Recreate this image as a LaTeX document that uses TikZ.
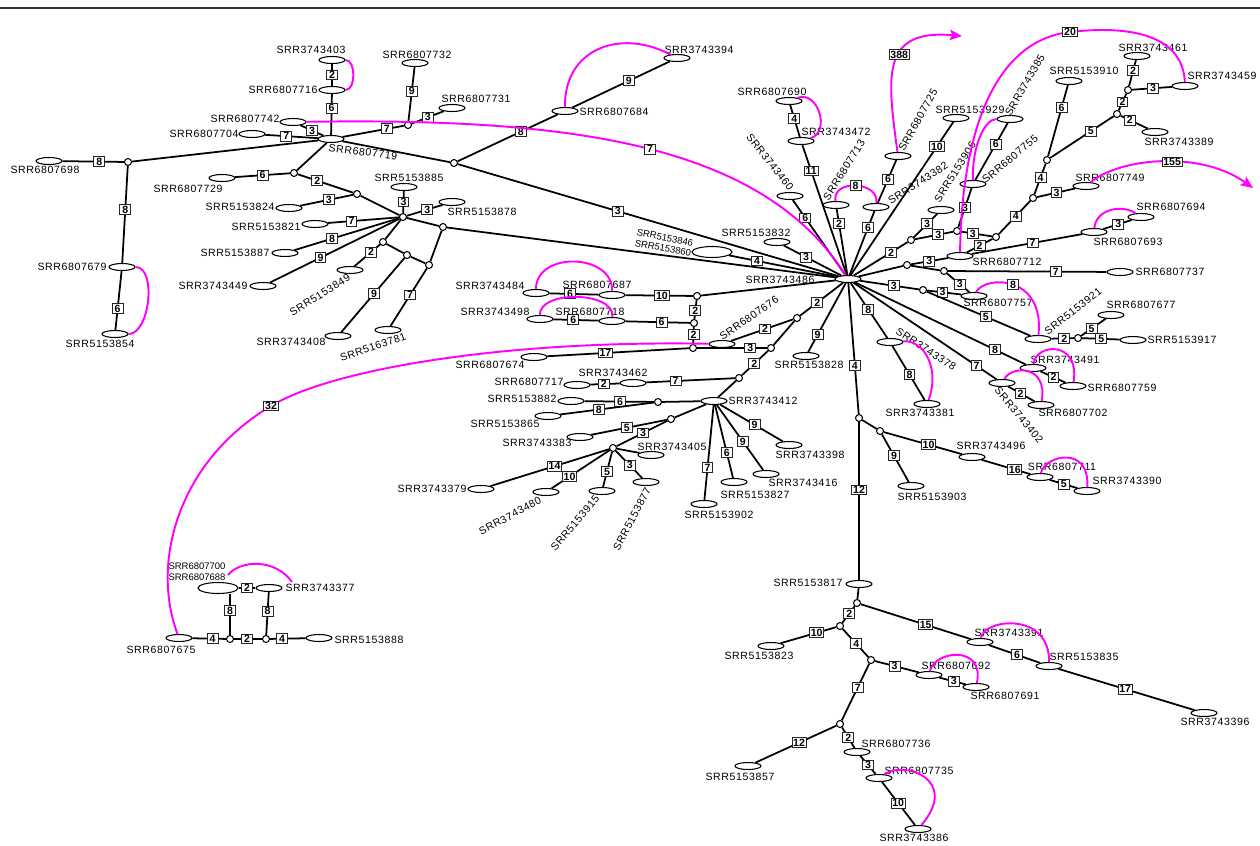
\documentclass[tikz,border=0pt]{standalone}
\usepackage{fontspec}
\setmainfont{Liberation Sans}
\newfontfamily\labfont[LetterSpace=6]{Liberation Sans}
\usetikzlibrary{shapes.geometric,arrows.meta,calc}
\definecolor{recomb}{RGB}{255,0,255}

\begin{document}
\begin{tikzpicture}[x=0.02cm,y=-0.02cm,line width=1pt,
  hap/.style={draw,ellipse,fill=white,line width=0.6pt,minimum width=0.52cm,minimum height=0.14cm,inner sep=0pt},
  bighap/.style={hap,minimum width=0.8cm,minimum height=0.22cm},
  med/.style={draw,circle,fill=white,line width=0.6pt,minimum size=0.14cm,inner sep=0pt},
  lab/.style={font=\labfont\fontsize{6}{7}\selectfont,inner sep=0pt},
  labtwo/.style={font=\fontsize{5.4}{6.2}\selectfont,inner sep=0pt,align=left},
  num/.style={draw=black!85,fill=white,line width=0.55pt,font=\bfseries\fontsize{6}{6}\selectfont,inner sep=0.7pt,minimum width=6.2pt,minimum height=5.6pt},
  magline/.style={draw=recomb,line width=1.1pt}]
\useasboundingbox (0,0) rectangle (1260,845);
% 顶部边线
\draw[line width=1.2pt,black!80] (0,8) -- (1260,8);
% 单倍型（椭圆）
\foreach \n/\x/\y in {6807698/49/161,6807679/122/267,5153854/115/334,6807742/293/122,
  6807704/252/134,6807719/331/139,3743403/332/60,6807716/332/90,6807732/415/63,
  6807731/452/108,6807729/222/178,5153824/289/208,5153821/315/224,5153887/285/253,
  3743449/263/286,5153885/404/187,5153878/452/202,5153849/350/270,3743408/338/336,
  5163781/388/330,6807684/565/111,3743394/677/58,6807690/789/101,3743472/801/141,
  3743460/790/196,6807713/836/205,3743382/876/207,6807725/898/156,5153929/956/118,
  5153906/941/210,6807755/973/184,3743385/1010/119,6807712/960/256,6807749/1086/186,
  5153910/1069/81,3743389/1155/132,3743461/1137/56,3743459/1185/86,6807693/1094/232,
  6807694/1141/217,6807737/1120/272,6807757/974/296,5153921/1038/339,6807677/1111/315,
  5153917/1133/340,3743491/1033/368,6807759/1073/386,3743402/1002/383,6807702/1041/405,
  3743378/890/342,3743381/927/404,5153828/806/356,6807676/722/344,3743462/633/383,
  6807717/577/385,3743412/714/401,5153882/571/401,5153865/548/416,3743383/580/437,
  3743405/651/455,3743379/481/489,3743480/546/492,5153915/602/491,5153877/646/482,
  5153902/704/504,5153827/734/482,3743416/766/474,3743398/789/445,3743484/536/293,
  6807687/612/295,3743498/540/319,6807718/612/321,6807674/534/357,5153832/777/242,
  3743486/848/279,6807675/179/638,5153888/319/638,3743377/269/588,5153903/911/486,
  3743496/972/457,6807711/1040/477,3743390/1087/491,5153817/859/584,5153823/771/646,
  6807692/929/675,6807691/976/687,3743391/980/642,5153835/1049/666,3743396/1204/713,
  5153857/748/766,6807736/857/752,6807735/879/778,3743386/918/829}
  \node[hap] (s\n) at (\x,\y) {};
\node[bighap] (s5153846) at (712,252) {};
\node[bighap] (s6807700) at (218,588) {};
% 中间向量（小圆）
\foreach \n/\x/\y in {1/128/162,2/294/173,3/357/194,4/403/217,5/443/227,6/383/242,
  7/407/255,8/429/265,9/408/125,10/454/163,11/911/240,12/957/231,13/996/237,
  14/1033/198,15/1047/160,16/1117/114,17/1128/90,18/907/265,19/923/290,20/944/271,
  21/1078/338,22/797/318,23/771/348,24/739/378,25/658/402,26/671/419,27/613/448,
  28/697/296,29/694/323,30/693/348,31/230/639,32/266/639,33/859/418,34/880/431,
  35/857/603,36/840/626,37/871/660,38/840/724}
  \node[med] (m\n) at (\x,\y) {};
% 带突变数的连线
\foreach \a/\b/\w/\p in {s6807698/m1/8/0.6,m1/s6807679/8/0.45,s6807679/s5153854/6/0.64,
  s6807742/s6807719/3/0.5,s6807704/s6807719/7/0.4,s3743403/s6807716/2/0.5,
  s6807716/s6807719/6/0.35,s6807719/m9/7/0.72,m9/s6807732/9/0.55,m9/s6807731/3/0.5,
  m10/s6807684/8/0.63,s6807684/s3743394/9/0.58,m10/s3743486/3/0.42,m2/s6807729/6/0.5,
  m2/m3/2/0.35,m3/s5153824/3/0.46,m4/s5153821/7/0.67,m4/s5153887/8/0.64,
  m4/s3743449/9/0.61,m4/s5153885/3/0.5,m4/s5153878/3/0.57,m6/s5153849/2/0.35,
  m7/s3743408/9/0.48,m8/s5163781/7/0.46,s6807690/s3743472/4/0.43,
  s3743472/s3743486/11/0.2,s3743460/s3743486/6/0.24,s6807713/s3743486/2/0.22,
  s3743382/s3743486/6/0.26,s3743382/s6807725/6/0.55,s5153929/s3743486/10/0.16,
  s3743486/m11/2/0.69,m11/s5153906/3/0.57,m11/m12/3/0.61,m12/s6807755/3/0.5,
  s6807755/s3743385/6/0.63,m12/m13/3/0.38,m13/s6807712/2/0.5,m13/m14/4/0.54,
  m14/s6807749/3/0.51,m14/m15/4/0.55,m15/s5153910/6/0.68,m15/m16/5/0.64,
  m16/m17/2/0.5,m16/s3743389/2/0.34,m17/s3743461/2/0.59,m17/s3743459/3/0.53,
  s6807712/s6807693/7/0.55,s6807693/s6807694/3/0.53,m18/s6807712/3/0.49,
  m20/s6807737/7/0.68,m20/s6807757/3/0.57,s3743486/m19/3/0.57,m19/s6807757/3/0.45,
  m19/s5153921/5/0.57,s5153921/m21/2/0.57,m21/s6807677/5/0.42,m21/s5153917/5/0.51,
  s3743486/s3743491/8/0.82,s3743491/s6807759/2/0.52,s3743486/s3743402/7/0.86,
  s3743402/s6807702/2/0.46,s3743486/s3743378/8/0.48,s3743378/s3743381/8/0.53,
  s3743486/s5153828/9/0.75,s3743486/m22/2/0.6,m22/s6807676/2/0.45,m30/m23/3/0.76,
  m23/m24/2/0.53,m24/s3743462/7/0.67,s3743462/s6807717/2/0.54,m25/s5153882/6/0.49,
  m25/s5153865/8/0.59,m26/s3743383/5/0.53,m26/m27/3/0.48,m27/s3743379/14/0.46,
  m27/s3743480/10/0.69,m27/s5153915/5/0.56,m27/s5153877/3/0.53,
  s3743412/s5153902/7/0.66,s3743412/s5153827/6/0.65,s3743412/s3743416/9/0.56,
  s3743412/s3743398/9/0.55,s3743484/s6807687/6/0.42,s6807687/m28/10/0.54,
  m28/m29/2/0.55,s3743498/s6807718/6/0.44,s6807718/m29/6/0.56,m29/m30/2/0.44,
  m30/s6807674/17/0.59,s5153846/s3743486/4/0.26,s5153832/s3743486/3/0.39,
  s6807675/m31/4/0.6,m31/m32/2/0.47,m32/s5153888/4/0.34,s6807700/s3743377/2/0.5,
  s3743377/m32/8/0.45,s3743486/m33/4/0.63,m34/s5153903/9/0.45,m34/s3743496/10/0.57,
  s3743496/s6807711/16/0.68,s6807711/s3743390/5/0.51,m33/s5153817/12/0.43,
  m35/m36/2/0.43,m36/s5153823/10/0.35,m36/m37/4/0.53,m37/s6807692/3/0.45,
  s6807692/s6807691/3/0.55,m35/s3743391/15/0.59,s3743391/s5153835/6/0.55,
  s5153835/s3743396/17/0.49,m37/m38/7/0.42,m38/s5153857/12/0.46,m38/s6807736/2/0.5,
  s6807736/s6807735/3/0.5,s6807735/s3743386/10/0.49}
  \draw (\a) -- node[num,pos=\p] {\w} (\b);
\draw (m31) -- node[num,pos=0.6] {8} (m31 |- s6807700.south);
% 单步连线
\foreach \a/\b in {m1/s6807719,s6807719/m10,s6807719/m2,m3/m4,m4/m5,m5/s3743486,
  m4/m6,m6/m7,m7/m8,m8/m5,m28/s3743486,s3743486/m18,m18/m20,m22/m23,
  m24/s3743412,s3743412/m25,s3743412/m26,m27/s3743405,m33/m34,s5153817/m35}
  \draw (\a) -- (\b);
% 名称
\foreach \n/\x/\y in {6807698/45/170,6807679/72/267,5153854/100/344,6807742/245/119,
  6807704/204/134,3743403/311/50,6807716/283/90,6807732/417/55,6807731/476/99,
  6807729/188/189,5153824/240/207,5153821/266/227,5153887/235/253,3743449/213/286,
  5153885/409/178,5153878/482/212,3743408/291/342,6807684/614/112,3743394/699/50,
  6807690/772/92,3743472/836/132,5153929/970/110,6807712/1007/262,6807749/1110/178,
  5153910/1084/71,3743389/1179/142,3743461/1153/48,3743459/1222/76,6807693/1128/242,
  6807694/1171/207,6807737/1170/272,6807757/998/303,6807677/1141/305,5153917/1182/340,
  3743491/1065/360,6807759/1122/388,6807702/1073/413,3743381/920/413,5153828/809/365,
  3743462/613/373,6807717/529/382,3743412/763/401,5153882/522/399,5153865/505/424,
  3743383/537/443,3743405/672/447,3743379/432/489,5153902/719/515,5153827/755/495,
  3743416/803/483,3743398/810/455,3743484/490/286,6807687/597/285,3743498/495/312,
  6807718/590/312,6807674/490/365,5153832/756/233,3743486/780/280,6807675/161/650,
  5153888/369/640,3743377/320/588,5153903/932/497,3743496/991/446,6807711/1062/467,
  3743390/1127/481,5153817/808/583,5153823/759/656,6807692/956/666,6807691/1005/696,
  3743391/1009/633,5153835/1084/657,3743396/1215/722,5153857/740/777,6807736/896/744,
  6807735/919/771,3743386/914/838}
  \node[lab] (l\n) at (\x,\y) {SRR\n};
\foreach \n/\x/\y/\r in {6807719/363/152/-7,5153849/320/295/32,5163781/373/347/19,
  3743460/770/162/-52,6807713/844/170/58,3743382/918/183/33,6807725/918/120/61,
  5153906/955/172/58,6807755/1010/159/40,3743385/1025/85/60,5153921/1073/311/38,
  3743402/1019/415/-50,3743378/926/349/-33,6807676/749/318/35,3743480/510/516/28,
  5153915/575/523/50,5153877/632/519/62}
  \node[lab,rotate=\r] (l\n) at (\x,\y) {SRR\n};
\node[labtwo] (l6807700) at (197,572) {SRR6807700\\SRR6807688};
\node[labtwo,rotate=-11] (l5153846) at (664,243) {SRR5153846\\SRR5153860};
% 品红连线
\coordinate (o388) at (962,36);
\coordinate (o155) at (1253,188);
\draw[magline] (s3743403) .. controls (356,60) and (356,90) .. (s6807716);
\draw[magline] (s6807679) .. controls (157,267) and (150,334) .. (s5153854);
\draw[magline] (s6807684) .. controls (564,49) and (620,28) .. (s3743394);
\draw[magline] (s6807742) .. controls (560,118) and (760,140) .. node[num,pos=0.52] {7} (s3743486);
\draw[magline] (s6807690) .. controls (818,90) and (831,132) .. (s3743472);
\draw[magline] (s6807713) .. controls (832,179) and (879,181) .. node[num] {8} (s3743382);
\draw[magline,-{Stealth[length=7pt,width=6pt,inset=1.5pt]}] (s6807725) .. controls (887,75) and (881,29) .. node[num,pos=0.57] {388} (o388);
\draw[magline] (s6807755) .. controls (972,145) and (985,119) .. (s3743385);
\draw[magline] (s6807712) .. controls (962,120) and (1000,40) .. (1070,32) node[num] {20}
  .. controls (1140,24) and (1183,40) .. (s3743459);
\draw[magline,-{Stealth[length=7pt,width=6pt,inset=1.5pt]}] (s6807749) .. controls (1120,158) and (1200,150) .. node[num,pos=0.55] {155} (o155);
\draw[magline] (s6807693) .. controls (1096,209) and (1122,204) .. (s6807694);
\draw[magline] (s6807757) .. controls (985,275) and (1045,275) .. node[num] {8} (s5153921);
\draw[magline] (s3743491) .. controls (1036,343) and (1080,340) .. (s6807759);
\draw[magline] (s3743402) .. controls (1012,365) and (1048,365) .. (s6807702);
\draw[magline] (s3743378) .. controls (925,340) and (940,370) .. (s3743381);
\draw[magline] (s3743484) .. controls (536,251) and (613,253) .. (s6807687);
\draw[magline] (s3743498) .. controls (539,290) and (615,291) .. (s6807718);
\draw[magline] (s6807676) .. controls (500,340) and (330,370) .. (271,406) node[num] {32}
  .. controls (180,460) and (150,560) .. (s6807675);
\draw[magline] ($(s6807700)+(10,-13)$) .. controls (240,560) and (275,558) .. ($(s3743377)+(23,-6)$);
\draw[magline] (s6807711) .. controls (1045,455) and (1090,445) .. (s3743390);
\draw[magline] (s6807692) .. controls (935,650) and (985,645) .. (s6807691);
\draw[magline] (s3743391) .. controls (985,618) and (1050,612) .. (s5153835);
\draw[magline] (s6807735) .. controls (905,760) and (960,780) .. (s3743386);
\end{tikzpicture}
\end{document}
